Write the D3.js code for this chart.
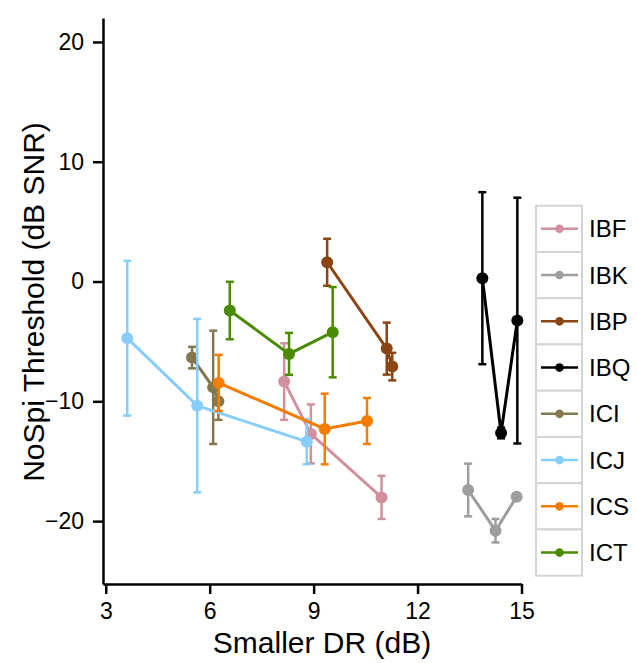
<!DOCTYPE html>
<html>
<head>
<meta charset="utf-8">
<script src="https://cdn.jsdelivr.net/npm/d3@7"></script>
<style>
  body { margin: 0; background: #fff; }
  text { font-family: "Liberation Sans", Arial, sans-serif; }
</style>
</head>
<body>
<div id="chart"></div>
<script>
// subjects, in legend order
const subjects = ["IBF", "IBK", "IBP", "IBQ", "ICI", "ICJ", "ICS", "ICT"];
const colors = ["#d1909e", "#9e9e9e", "#8b4513", "#000000", "#857850", "#87cefa", "#f47c00", "#4b8b00"];

// smaller DR (dB) per subject
const drValues = [
  [8.15, 8.92, 10.96],
  [13.46, 14.25, 14.86],
  [9.39, 11.11, 11.27],
  [13.87, 14.41, 14.88],
  [5.49, 6.10, 6.25],
  [3.62, 5.64, 8.80],
  [6.26, 9.32, 10.54],
  [6.58, 8.29, 9.55]
];
// NoSpi threshold (dB SNR)
const thresholds = [
  [-8.35, -12.72, -18.02],
  [-17.4, -20.8, -17.96],
  [1.61, -5.6, -7.1],
  [0.28, -12.64, -3.26],
  [-6.35, -8.83, -10.0],
  [-4.73, -10.36, -13.37],
  [-8.46, -12.31, -11.64],
  [-2.42, -6.04, -4.23]
];
// error bar half-widths (dB)
const errors = [
  [3.2, 2.46, 1.8],
  [2.2, 0.98, 0],
  [1.96, 2.17, 1.15],
  [7.18, 0.45, 10.26],
  [0.9, 4.73, 1.55],
  [6.46, 7.24, 1.88],
  [2.34, 2.95, 1.92],
  [2.4, 1.75, 3.77]
];

const xTicks = [3, 6, 9, 12, 15];
const yTicks = [-20, -10, 0, 10, 20];

const width = 637, height = 663;

const svg = d3.select("#chart").append("svg")
  .attr("width", width)
  .attr("height", height);

const x = d3.scaleLinear().domain([2.92, 15]).range([103, 521.5]);
const y = d3.scaleLinear().domain([-25.25, 22]).range([584, 18]);

// axes
const xAxis = svg.append("g")
  .attr("transform", "translate(0,584)")
  .call(d3.axisBottom(x).tickValues(xTicks).tickSize(10).tickSizeOuter(0).tickPadding(9));
const yAxis = svg.append("g")
  .attr("transform", "translate(103,0)")
  .call(d3.axisLeft(y).tickValues(yTicks).tickSize(10).tickSizeOuter(0).tickPadding(9));

[xAxis, yAxis].forEach(g => {
  g.selectAll("path, line").attr("stroke", "#000").attr("stroke-width", 2.5);
  g.selectAll("text").attr("font-size", 23).attr("fill", "#000")
    .style("font-family", "'Liberation Sans', Arial, sans-serif");
});

svg.append("text")
  .attr("x", 322)
  .attr("y", 653)
  .attr("text-anchor", "middle")
  .attr("font-size", 30)
  .text("Smaller DR (dB)");

svg.append("text")
  .attr("transform", "translate(44,302) rotate(-90)")
  .attr("text-anchor", "middle")
  .attr("font-size", 30)
  .text("NoSpi Threshold (dB SNR)");

// series
subjects.forEach((name, i) => {
  const pts = drValues[i].map((d, j) => ({ x: d, y: thresholds[i][j], e: errors[i][j] }));
  const g = svg.append("g").attr("class", "series");
  const col = colors[i];

  const bars = g.selectAll(".err").data(pts.filter(p => p.e > 0)).join("g");
  bars.append("line")
    .attr("x1", d => x(d.x)).attr("x2", d => x(d.x))
    .attr("y1", d => y(d.y - d.e)).attr("y2", d => y(d.y + d.e))
    .attr("stroke", col).attr("stroke-width", 2.5);
  [-1, 1].forEach(s => {
    bars.append("line")
      .attr("x1", d => x(d.x) - 4).attr("x2", d => x(d.x) + 4)
      .attr("y1", d => y(d.y + s * d.e)).attr("y2", d => y(d.y + s * d.e))
      .attr("stroke", col).attr("stroke-width", 2.5);
  });

  g.append("path")
    .datum(pts)
    .attr("fill", "none")
    .attr("stroke", col)
    .attr("stroke-width", 3)
    .attr("d", d3.line().x(d => x(d.x)).y(d => y(d.y)));

  g.selectAll("circle").data(pts).join("circle")
    .attr("cx", d => x(d.x))
    .attr("cy", d => y(d.y))
    .attr("r", 6)
    .attr("fill", col);
});

// legend
const rowH = 46.25;
const legend = svg.append("g").attr("transform", "translate(536,205.7)");
const rows = legend.selectAll("g").data(subjects).join("g")
  .attr("transform", (d, i) => `translate(0,${i * rowH})`);
rows.append("rect")
  .attr("width", 46).attr("height", rowH)
  .attr("fill", "#fff").attr("stroke", "#d4d4d4").attr("stroke-width", 2);
rows.append("line")
  .attr("x1", 5).attr("x2", 42)
  .attr("y1", rowH / 2).attr("y2", rowH / 2)
  .attr("stroke", (d, i) => colors[i]).attr("stroke-width", 2.5);
rows.append("circle")
  .attr("cx", 23.5).attr("cy", rowH / 2).attr("r", 4.3)
  .attr("fill", (d, i) => colors[i]);
rows.append("text")
  .attr("x", 53).attr("y", rowH / 2 + 8.5)
  .attr("font-size", 24)
  .text(d => d);
</script>
</body>
</html>
